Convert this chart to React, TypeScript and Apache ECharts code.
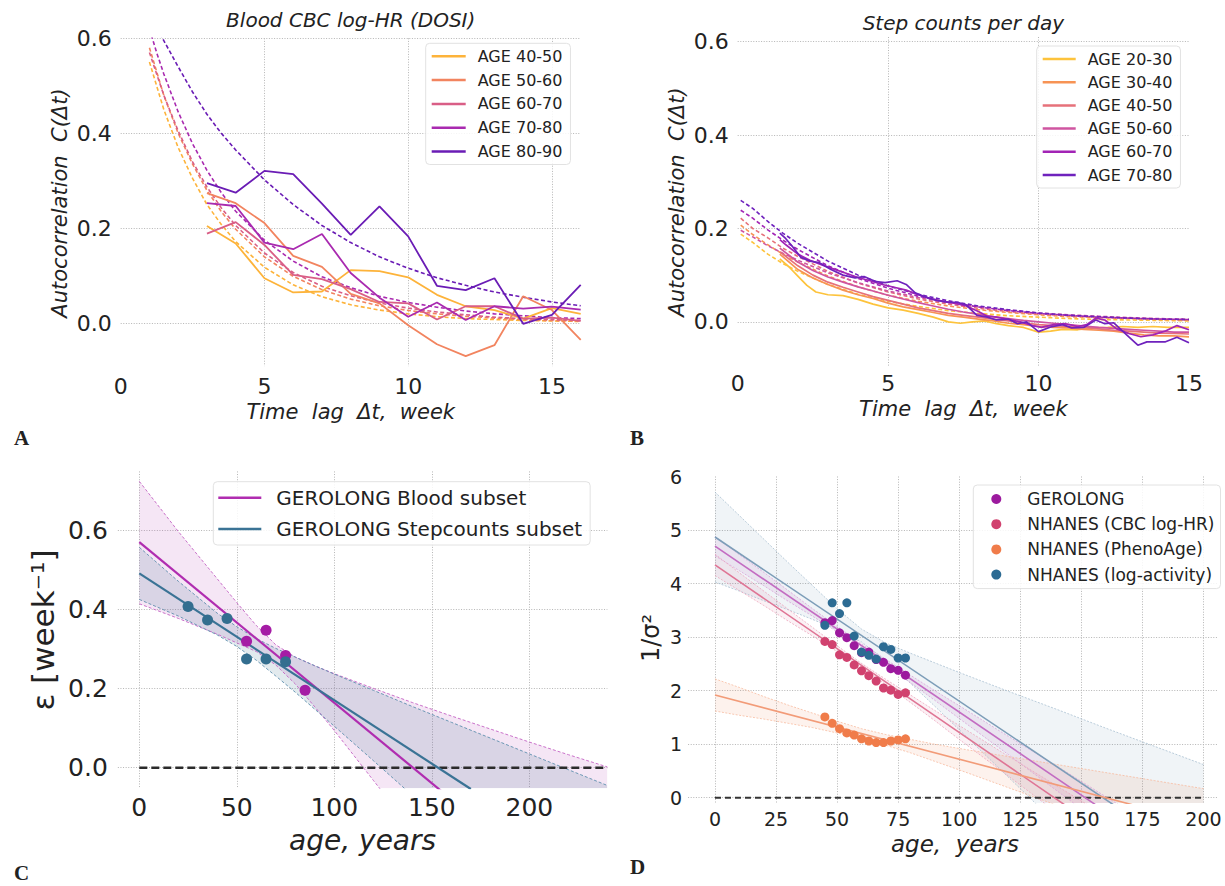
import React, { useEffect, useRef } from 'react';
import * as echarts from 'echarts';

const FONT = 'DejaVu Sans';
const INK = '#222';

// ---------- Panel A : Blood CBC log-HR (DOSI) ----------
const labelsA = ['AGE 40-50', 'AGE 50-60', 'AGE 60-70', 'AGE 70-80', 'AGE 80-90'];
const colorsA = ['#fdb33a', '#f2845f', '#d95e86', '#a92ab0', '#6a1cb5'];
const weeksA = [3, 4, 5, 6, 7, 8, 9, 10, 11, 12, 13, 14, 15, 16];
const a40 = [0.205, 0.168, 0.095, 0.065, 0.067, 0.112, 0.110, 0.097, 0.060, 0.036, 0.028, 0.010, 0.032, 0.020];
const a50 = [0.274, 0.253, 0.211, 0.142, 0.119, 0.062, 0.042, -0.004, -0.044, -0.069, -0.046, 0.057, 0.028, -0.035];
const a60 = [0.189, 0.213, 0.165, 0.102, 0.093, 0.072, 0.045, 0.042, 0.008, 0.036, 0.036, 0.010, 0.012, 0.005];
const a70 = [0.253, 0.247, 0.170, 0.156, 0.188, 0.106, 0.054, 0.014, 0.044, 0.007, 0.036, 0.031, 0.035, 0.029];
const a80 = [0.295, 0.275, 0.321, 0.314, 0.252, 0.186, 0.246, 0.183, 0.079, 0.070, 0.095, -0.001, 0.018, 0.081];
const solidA = [a40, a50, a60, a70, a80];
const fitTA = [1, 1.25, 1.5, 2, 2.5, 3, 3.5, 4, 5, 6, 7, 8, 9, 10, 11, 12, 13, 14, 15, 16];
const fitA40 = [0.55, 0.5, 0.45, 0.37, 0.305, 0.25, 0.208, 0.172, 0.118, 0.081, 0.056, 0.039, 0.028, 0.02, 0.014, 0.01, 0.008, 0.006, 0.005, 0.004];
const fitA50 = [0.58, 0.53, 0.48, 0.4, 0.335, 0.28, 0.235, 0.198, 0.14, 0.099, 0.071, 0.051, 0.037, 0.027, 0.02, 0.015, 0.011, 0.008, 0.006, 0.005];
const fitA60 = [0.57, 0.525, 0.48, 0.405, 0.34, 0.287, 0.243, 0.206, 0.148, 0.107, 0.078, 0.058, 0.043, 0.032, 0.024, 0.018, 0.013, 0.01, 0.008, 0.006];
const fitA70 = [0.62, 0.57, 0.525, 0.445, 0.378, 0.322, 0.275, 0.236, 0.175, 0.131, 0.098, 0.075, 0.057, 0.044, 0.034, 0.026, 0.02, 0.016, 0.012, 0.01];
const fitA80 = [0.66, 0.625, 0.595, 0.54, 0.487, 0.44, 0.4, 0.365, 0.302, 0.25, 0.206, 0.17, 0.14, 0.116, 0.096, 0.08, 0.066, 0.055, 0.045, 0.037];
const fitsA = [fitA40, fitA50, fitA60, fitA70, fitA80];

// ---------- Panel B : Step counts per day ----------
const labelsB = ['AGE 20-30', 'AGE 30-40', 'AGE 40-50', 'AGE 50-60', 'AGE 60-70', 'AGE 70-80'];
const colorsB = ['#fdc33c', '#f79354', '#e6717a', '#cf55a0', '#a224b5', '#6f22bd'];
const b20: number[][] = [[1.4, 0.135], [1.7, 0.118], [2, 0.098], [2.3, 0.078], [2.6, 0.064], [3, 0.058], [3.5, 0.056], [4, 0.048], [4.5, 0.038], [5, 0.03], [5.5, 0.025], [6, 0.018], [6.5, 0.01], [7, 0.0], [7.4, -0.003], [7.8, 0.0], [8.2, 0.002], [8.6, -0.004], [9, -0.008], [9.5, -0.012], [10, -0.022], [10.4, -0.02], [10.8, -0.016], [11.3, -0.017], [11.8, -0.013], [12.3, -0.012], [12.8, -0.01], [13.3, -0.012], [13.8, -0.01], [14.3, -0.012], [15, -0.012]];
const b30: number[][] = [[1.4, 0.145], [2, 0.112], [2.5, 0.094], [3, 0.08], [3.5, 0.068], [4, 0.058], [4.5, 0.05], [5, 0.04], [5.5, 0.032], [6, 0.026], [6.5, 0.02], [7, 0.014], [7.5, 0.01], [8, 0.006], [8.5, 0.002], [9, -0.003], [9.5, -0.006], [10, -0.01], [10.5, -0.012], [11, -0.013], [11.5, -0.016], [12, -0.018], [12.5, -0.02], [13, -0.024], [13.5, -0.028], [14, -0.03], [14.5, -0.03], [15, -0.032]];
const b40: number[][] = [[1.4, 0.15], [2, 0.12], [2.5, 0.1], [3, 0.085], [3.5, 0.074], [4, 0.064], [4.5, 0.054], [5, 0.046], [5.5, 0.038], [6, 0.03], [6.5, 0.024], [7, 0.018], [7.5, 0.014], [8, 0.01], [8.5, 0.006], [9, 0.002], [9.5, -0.002], [10, -0.006], [10.5, -0.008], [11, -0.01], [11.5, -0.012], [12, -0.015], [12.5, -0.018], [13, -0.02], [13.5, -0.022], [14, -0.024], [14.5, -0.025], [15, -0.026]];
const b50: number[][] = [[1.4, 0.158], [2, 0.128], [2.5, 0.11], [3, 0.096], [3.5, 0.085], [4, 0.075], [4.5, 0.066], [5, 0.057], [5.5, 0.049], [6, 0.041], [6.5, 0.034], [7, 0.027], [7.5, 0.021], [8, 0.016], [8.5, 0.011], [9, 0.007], [9.5, 0.003], [10, 0.0], [10.5, -0.003], [11, -0.006], [11.5, -0.009], [12, -0.012], [12.5, -0.014], [13, -0.016], [13.5, -0.018], [14, -0.02], [14.5, -0.022], [15, -0.022]];
const b60: number[][] = [[1.4, 0.176], [1.6, 0.165], [2, 0.145], [2.4, 0.132], [2.8, 0.122], [3.2, 0.113], [3.6, 0.104], [4, 0.095], [4.4, 0.088], [4.8, 0.08], [5.2, 0.074], [5.6, 0.068], [6, 0.058], [6.4, 0.05], [6.8, 0.044], [7.2, 0.04], [7.6, 0.034], [8, 0.022], [8.3, 0.012], [8.6, 0.01], [9, 0.005], [9.4, 0.0], [9.8, -0.008], [10.1, -0.012], [10.5, -0.006], [10.9, -0.004], [11.3, -0.01], [11.6, -0.006], [11.9, 0.008], [12.2, 0.004], [12.6, -0.015], [13, -0.025], [13.4, -0.032], [13.8, -0.028], [14.2, -0.02], [14.6, -0.008], [15, -0.017]];
const b70: number[][] = [[1.4, 0.19], [1.6, 0.178], [1.8, 0.163], [2.1, 0.138], [2.4, 0.13], [2.7, 0.127], [3.1, 0.112], [3.5, 0.1], [3.9, 0.094], [4.2, 0.097], [4.6, 0.086], [4.9, 0.084], [5.3, 0.088], [5.6, 0.08], [5.9, 0.062], [6.2, 0.054], [6.6, 0.046], [7, 0.042], [7.3, 0.042], [7.6, 0.036], [7.95, 0.014], [8.3, 0.01], [8.6, 0.004], [9, 0.006], [9.3, -0.004], [9.6, 0.0], [10, -0.021], [10.4, -0.011], [10.8, -0.006], [11.1, -0.013], [11.5, -0.012], [11.9, 0.004], [12.2, -0.004], [12.5, -0.002], [13, -0.032], [13.3, -0.05], [13.6, -0.043], [14.2, -0.043], [14.6, -0.033], [15, -0.045]];
const solidB = [b20, b30, b40, b50, b60, b70];
const fitTB = [0.1, 0.5, 1, 1.5, 2, 3, 4, 5, 6, 7, 8, 9, 10, 11, 12, 13, 14, 15];
const fitB20 = [0.188, 0.17, 0.145, 0.125, 0.108, 0.08, 0.059, 0.044, 0.033, 0.024, 0.018, 0.013, 0.01, 0.007, 0.005, 0.004, 0.003, 0.002];
const fitB30 = [0.207, 0.187, 0.165, 0.145, 0.128, 0.098, 0.075, 0.057, 0.044, 0.034, 0.026, 0.02, 0.015, 0.011, 0.009, 0.007, 0.005, 0.004];
const fitB40 = [0.222, 0.2, 0.18, 0.158, 0.14, 0.108, 0.083, 0.064, 0.049, 0.038, 0.029, 0.022, 0.017, 0.013, 0.01, 0.008, 0.006, 0.005];
const fitB50 = [0.196, 0.182, 0.163, 0.147, 0.132, 0.105, 0.084, 0.066, 0.052, 0.041, 0.032, 0.025, 0.019, 0.015, 0.012, 0.009, 0.007, 0.005];
const fitB60 = [0.239, 0.222, 0.197, 0.175, 0.155, 0.12, 0.093, 0.072, 0.055, 0.042, 0.032, 0.024, 0.018, 0.014, 0.01, 0.008, 0.006, 0.005];
const fitB70 = [0.26, 0.243, 0.215, 0.19, 0.168, 0.13, 0.1, 0.077, 0.059, 0.045, 0.034, 0.026, 0.019, 0.014, 0.011, 0.008, 0.006, 0.005];
const fitsB = [fitB20, fitB30, fitB40, fitB50, fitB60, fitB70];

// ---------- Panel C : epsilon vs age ----------
const bloodAges = [55, 65, 75, 85];
const bloodEps = [0.32, 0.348, 0.284, 0.196];
const stepAges = [25, 35, 45, 55, 65, 75];
const stepEps = [0.408, 0.374, 0.378, 0.275, 0.275, 0.268];
const bloodFitX = [0, 160];
const bloodFitY = [0.571, -0.08];
const stepFitX = [0, 170];
const stepFitY = [0.492, -0.054];
const bandXC = [0, 20, 40, 50, 60, 70, 80, 90, 100, 120, 140, 160, 180, 200, 220, 240];
const bloodUp = [0.725, 0.598, 0.478, 0.418, 0.36, 0.311, 0.28, 0.258, 0.238, 0.201, 0.165, 0.131, 0.098, 0.065, 0.033, 0.002];
const bloodLo = [0.415, 0.378, 0.338, 0.316, 0.294, 0.26, 0.212, 0.154, 0.094, -0.032, -0.157, -0.283, -0.408, -0.534, -0.66, -0.786];
const stepUp = [0.558, 0.472, 0.391, 0.357, 0.327, 0.302, 0.28, 0.258, 0.237, 0.196, 0.155, 0.115, 0.075, 0.035, -0.005, -0.045];
const stepLo = [0.426, 0.384, 0.336, 0.307, 0.272, 0.232, 0.191, 0.148, 0.105, 0.018, -0.07, -0.158, -0.246, -0.335, -0.423, -0.512];

// ---------- Panel D : 1/sigma^2 vs age ----------
const agesD = [45, 48, 51, 54, 57, 60, 63, 66, 69, 72, 75, 78];
const geroD = [3.27, 3.31, 3.08, 2.99, 2.84, 2.71, 2.72, 2.58, 2.53, 2.41, 2.38, 2.29];
const cbcD = [2.92, 2.86, 2.67, 2.62, 2.48, 2.37, 2.28, 2.18, 2.05, 2.01, 1.93, 1.96];
const phenoD = [1.51, 1.39, 1.29, 1.21, 1.17, 1.1, 1.06, 1.03, 1.03, 1.06, 1.08, 1.1];
const actD = [3.22, 3.64, 3.44, 3.64, 3.02, 2.72, 2.66, 2.59, 2.82, 2.77, 2.61, 2.61];
const bandXD = [0, 10, 20, 30, 40, 50, 60, 70, 80, 90, 100, 120, 140, 160, 180, 200];
const actUp = [5.71, 5.27, 4.83, 4.39, 3.96, 3.53, 3.15, 2.89, 2.7, 2.52, 2.34, 1.99, 1.65, 1.3, 0.96, 0.62];
const actLo = [4.03, 3.86, 3.68, 3.51, 3.33, 3.14, 2.91, 2.56, 2.14, 1.71, 1.27, 0.39, -0.49, -1.37, -2.25, -3.14];
const geroUp = [4.88, 4.54, 4.21, 3.87, 3.53, 3.2, 2.88, 2.58, 2.29, 2.0, 1.72, 1.15, 0.59, 0.02, -0.54, -1.1];
const geroLo = [4.52, 4.24, 3.96, 3.67, 3.39, 3.1, 2.8, 2.48, 2.15, 1.82, 1.48, 0.81, 0.13, -0.54, -1.22, -1.9];
const cbcUp = [4.55, 4.2, 3.86, 3.52, 3.18, 2.84, 2.51, 2.21, 1.92, 1.63, 1.35, 0.78, 0.22, -0.34, -0.91, -1.47];
const cbcLo = [4.15, 3.87, 3.59, 3.3, 3.02, 2.73, 2.43, 2.11, 1.78, 1.44, 1.09, 0.41, -0.28, -0.97, -1.66, -2.35];
const phenoUp = [2.22, 2.06, 1.89, 1.73, 1.58, 1.43, 1.29, 1.18, 1.09, 1.0, 0.92, 0.77, 0.62, 0.47, 0.32, 0.17];
const phenoLo = [1.62, 1.54, 1.47, 1.39, 1.31, 1.21, 1.11, 0.98, 0.84, 0.68, 0.52, 0.19, -0.14, -0.47, -0.8, -1.13];
const fitXD = [0, 200];
const actFit = [4.87, -1.26];
const geroFit = [4.7, -1.5];
const cbcFit = [4.35, -1.91];
const phenoFit = [1.92, -0.48];
const labelsD = ['GEROLONG', 'NHANES (CBC log-HR)', 'NHANES (PhenoAge)', 'NHANES (log-activity)'];

const zip = (xs: number[], ys: number[]) => xs.map((x, i) => [x, ys[i]]);

function buildOption() {
  const grids = [
    { left: 120.7, top: 38.3, width: 460, height: 327.8 },
    { left: 737.7, top: 37, width: 451.3, height: 329.2 },
    { left: 117.85, top: 471.45, width: 489.5, height: 316.8 },
    { left: 688.1, top: 476.5, width: 530, height: 326.6 },
  ].map((g) => ({ ...g, containLabel: false, outerBoundsMode: 'none' }));

  const gridLine = { color: '#b5b5b5', width: 1, type: [1, 1.6] };
  const axis = (o: any) => ({
    type: 'value',
    gridIndex: o.g,
    min: o.min,
    max: o.max,
    minInterval: o.step,
    maxInterval: o.step,
    axisLine: { show: false },
    axisTick: { show: false },
    axisLabel: {
      fontSize: o.fs,
      color: INK,
      fontFamily: FONT,
      margin: o.margin,
      showMinLabel: o.minLabel,
      showMaxLabel: o.maxLabel,
      formatter: o.fmt,
    },
    splitLine: { show: true, lineStyle: gridLine, showMinLine: false, showMaxLine: o.maxLine },
  });
  const f1 = (v: number) => v.toFixed(1);
  const f0 = (v: number) => String(Math.round(v));

  const xAxis = [
    axis({ g: 0, min: 0, max: 16, step: 5, fs: 22, margin: 9, minLabel: true, maxLabel: false, fmt: f0, maxLine: false }),
    axis({ g: 1, min: 0, max: 15, step: 5, fs: 22, margin: 6, minLabel: true, maxLabel: true, fmt: f0, maxLine: false }),
    axis({ g: 2, min: -11, max: 240, step: 50, fs: 25, margin: 7, minLabel: false, maxLabel: false, fmt: f0, maxLine: false }),
    axis({ g: 3, min: -11, max: 206, step: 25, fs: 19, margin: 6, minLabel: false, maxLabel: false, fmt: f0, maxLine: false }),
  ];
  const yAxis = [
    axis({ g: 0, min: -0.09, max: 0.6, step: 0.2, fs: 22, margin: 9, minLabel: false, maxLabel: true, fmt: f1, maxLine: true }),
    axis({ g: 1, min: -0.095, max: 0.61, step: 0.2, fs: 22, margin: 9, minLabel: false, maxLabel: false, fmt: f1, maxLine: false }),
    axis({ g: 2, min: -0.052, max: 0.75, step: 0.2, fs: 25, margin: 10, minLabel: false, maxLabel: false, fmt: f1, maxLine: false }),
    axis({ g: 3, min: -0.1, max: 6, step: 1, fs: 19, margin: 6, minLabel: false, maxLabel: true, fmt: f0, maxLine: false }),
  ];

  const series: any[] = [];
  const line = (name: string, g: number, data: number[][], color: string, width: number, type: any, z = 2) => ({
    type: 'line',
    name,
    xAxisIndex: g,
    yAxisIndex: g,
    data,
    symbol: 'none',
    smooth: false,
    clip: true,
    z,
    itemStyle: { color },
    lineStyle: { color, width, type },
    emphasis: { disabled: true },
  });
  // confidence band: filled polygon between lo and up (custom series, clipped to the grid) + dashed edges
  const band = (id: string, g: number, xs: number[], lo: number[], up: number[], fill: string, edge: string, edgeW: number, edgeType: any) => {
    series.push({
      type: 'custom',
      name: id + ' fill',
      xAxisIndex: g,
      yAxisIndex: g,
      data: [[xs[0], lo[0]]],
      z: 1,
      silent: true,
      clip: true,
      renderItem: (params: any, api: any) => {
        const pts: number[][] = [];
        xs.forEach((x, i) => pts.push(api.coord([x, up[i]])));
        for (let i = xs.length - 1; i >= 0; i--) pts.push(api.coord([xs[i], lo[i]]));
        const cs = params.coordSys;
        return {
          type: 'polygon',
          shape: { points: pts },
          style: { fill, stroke: 'none' },
          clipPath: { type: 'rect', shape: { x: cs.x, y: cs.y, width: cs.width, height: cs.height } },
        };
      },
    });
    series.push(line(id + ' lo', g, zip(xs, lo), edge, edgeW, edgeType, 1));
    series.push(line(id + ' up', g, zip(xs, up), edge, edgeW, edgeType, 1));
  };

  // Panel A
  labelsA.forEach((lab, i) => {
    series.push(line('A fit ' + lab, 0, zip(fitTA, fitsA[i]), colorsA[i], 1.6, [4, 2.5]));
  });
  labelsA.forEach((lab, i) => {
    series.push(line('A ' + lab, 0, zip(weeksA, solidA[i]), colorsA[i], 1.8, 'solid', 3));
  });

  // Panel B
  labelsB.forEach((lab, i) => {
    series.push(line('B fit ' + lab, 1, zip(fitTB, fitsB[i]), colorsB[i], 1.6, [4, 2.5]));
  });
  labelsB.forEach((lab, i) => {
    series.push(line('B ' + lab, 1, solidB[i], colorsB[i], 1.7, 'solid', 3));
  });

  // Panel C
  band('C blood band', 2, bandXC, bloodLo, bloodUp, 'rgba(180,60,180,0.13)', '#c463c4', 0.9, [3, 2]);
  band('C step band', 2, bandXC, stepLo, stepUp, 'rgba(58,111,143,0.15)', '#5e8fae', 0.9, [3, 2]);
  series.push(line('C zero', 2, [[0, 0], [240, 0]], '#2b2b2b', 2.6, [8, 4], 2));
  series.push(line('C GEROLONG Blood subset', 2, zip(bloodFitX, bloodFitY), '#b02db0', 2.2, 'solid', 3));
  series.push(line('C GEROLONG Stepcounts subset', 2, zip(stepFitX, stepFitY), '#3a7395', 2.2, 'solid', 3));
  series.push({
    type: 'scatter', name: 'C blood pts', xAxisIndex: 2, yAxisIndex: 2, data: zip(bloodAges, bloodEps),
    symbolSize: 11, itemStyle: { color: '#a51ca5', opacity: 1 }, z: 4,
  });
  series.push({
    type: 'scatter', name: 'C step pts', xAxisIndex: 2, yAxisIndex: 2, data: zip(stepAges, stepEps),
    symbolSize: 11, itemStyle: { color: '#336e8f', opacity: 1 }, z: 4,
  });

  // Panel D
  band('D act band', 3, bandXD, actLo, actUp, 'rgba(48,106,143,0.07)', '#a9c0d2', 0.8, [2, 1.5]);
  band('D gero band', 3, bandXD, geroLo, geroUp, 'rgba(156,23,158,0.07)', '#d9a2d9', 0.8, [2, 1.5]);
  band('D cbc band', 3, bandXD, cbcLo, cbcUp, 'rgba(204,63,113,0.07)', '#eda6bd', 0.8, [2, 1.5]);
  band('D pheno band', 3, bandXD, phenoLo, phenoUp, 'rgba(240,125,75,0.10)', '#f7bb9f', 0.8, [2, 1.5]);
  series.push(line('D zero', 3, [[0, 0], [200, 0]], '#333333', 1.8, [6, 4], 2));
  series.push(line('D act fit', 3, zip(fitXD, actFit), '#7d9db8', 1.6, 'solid', 2));
  series.push(line('D gero fit', 3, zip(fitXD, geroFit), '#c36cc2', 1.6, 'solid', 2));
  series.push(line('D cbc fit', 3, zip(fitXD, cbcFit), '#df7595', 1.6, 'solid', 2));
  series.push(line('D pheno fit', 3, zip(fitXD, phenoFit), '#f29b78', 1.6, 'solid', 2));
  const ptsD = [geroD, cbcD, phenoD, actD];
  const colD = ['#9c1a9e', '#d1426f', '#f07c4a', '#2c6b93'];
  labelsD.forEach((lab, i) => {
    series.push({
      type: 'scatter', name: 'D ' + lab, xAxisIndex: 3, yAxisIndex: 3, data: zip(agesD, ptsD[i]),
      symbolSize: 9, itemStyle: { color: colD[i], opacity: 1 }, z: 4,
    });
  });

  const legendBase = {
    orient: 'vertical',
    selectedMode: false,
    backgroundColor: 'rgba(255,255,255,0.85)',
    borderColor: '#e2e2e2',
    borderWidth: 1,
    borderRadius: 4,
    formatter: (n: string) => n.replace(/^[A-D] /, ''),
  };
  const legend = [
    {
      ...legendBase, left: 425.7, top: 43.3, padding: [4, 8, 4, 6], itemGap: 5.8, itemWidth: 34, itemHeight: 2.5, icon: 'rect',
      textStyle: { fontSize: 16, lineHeight: 18, color: INK, fontFamily: FONT, padding: [0, 0, 0, 7] },
      data: labelsA.map((l) => 'A ' + l),
    },
    {
      ...legendBase, left: 1036.7, top: 46, padding: [4, 8, 4, 6], itemGap: 5.2, itemWidth: 33, itemHeight: 2.5, icon: 'rect',
      textStyle: { fontSize: 16, lineHeight: 18, color: INK, fontFamily: FONT, padding: [0, 0, 0, 7] },
      data: labelsB.map((l) => 'B ' + l),
    },
    {
      ...legendBase, left: 213.3, top: 481.7, padding: [4, 8, 4, 5], itemGap: 7.3, itemWidth: 43, itemHeight: 2.5, icon: 'rect',
      textStyle: { fontSize: 20, lineHeight: 24, color: INK, fontFamily: FONT, padding: [0, 0, 0, 10] },
      data: ['C GEROLONG Blood subset', 'C GEROLONG Stepcounts subset'],
    },
    {
      ...legendBase, left: 973.3, top: 485, padding: [4, 6, 4, 18], itemGap: 5.2, itemWidth: 10, itemHeight: 10, icon: 'circle',
      textStyle: { fontSize: 17, lineHeight: 20, color: INK, fontFamily: FONT, padding: [0, 0, 0, 21] },
      data: labelsD.map((l) => 'D ' + l),
    },
  ];

  const txt = (text: string, x: number, y: number, size: number, opts: any = {}) => ({
    type: 'text',
    x,
    y,
    rotation: opts.rot || 0,
    silent: true,
    style: {
      text,
      fontSize: size,
      fontFamily: opts.family || FONT,
      fontStyle: opts.italic ? 'italic' : 'normal',
      fontWeight: opts.bold ? 'bold' : 'normal',
      fill: INK,
      align: opts.align || 'center',
      verticalAlign: 'middle',
    },
  });
  const R = Math.PI / 2;
  const graphic = [
    txt('Blood CBC log-HR (DOSI)', 350.7, 20, 20, { italic: true }),
    txt('Step counts per day', 963.4, 23, 20, { italic: true }),
    txt('Time  lag  \u0394t,  week', 350.7, 412, 21, { italic: true }),
    txt('Time  lag  \u0394t,  week', 963.4, 409, 21, { italic: true }),
    txt('Autocorrelation  C(\u0394t)', 60, 203, 21, { italic: true, rot: R }),
    txt('Autocorrelation  C(\u0394t)', 677, 202, 21, { italic: true, rot: R }),
    txt('age, years', 362.6, 840, 28, { italic: true }),
    txt('\u03b5 [week\u207b\u00b9]', 43, 630, 31, { rot: R }),
    txt('age,  years', 955, 844, 23, { italic: true }),
    txt('1/\u03c3\u00b2', 651, 638, 24, { rot: R }),
    txt('A', 14, 438, 21, { family: 'Liberation Serif', bold: true, align: 'left' }),
    txt('B', 630, 438, 21, { family: 'Liberation Serif', bold: true, align: 'left' }),
    txt('C', 14, 873, 21, { family: 'Liberation Serif', bold: true, align: 'left' }),
    txt('D', 630, 867, 21, { family: 'Liberation Serif', bold: true, align: 'left' }),
  ];

  return {
    animation: false,
    backgroundColor: '#ffffff',
    textStyle: { fontFamily: FONT },
    grid: grids,
    xAxis,
    yAxis,
    legend,
    series,
    graphic,
  };
}

export default function App() {
  const ref = useRef<HTMLDivElement>(null);
  useEffect(() => {
    if (!ref.current) return;
    const chart = echarts.init(ref.current, null, { renderer: 'svg' });
    chart.setOption(buildOption() as any);
    return () => chart.dispose();
  }, []);
  return (
    <div
      ref={ref}
      style={{ position: 'fixed', left: 0, top: 0, width: 1225, height: 886, background: '#fff' }}
    />
  );
}
